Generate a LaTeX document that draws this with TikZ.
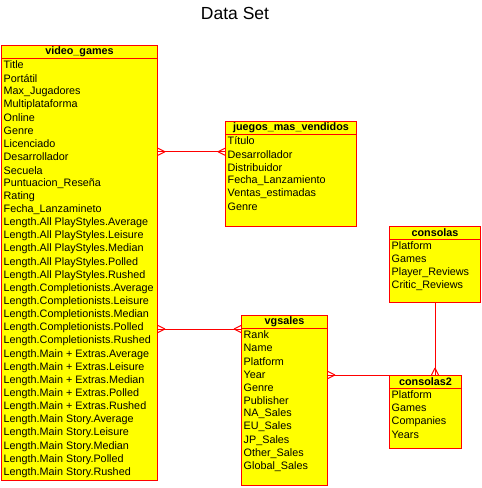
\documentclass[tikz,border=0pt]{standalone}
\usepackage{fontspec}
\setmainfont{Liberation Sans}
\usetikzlibrary{calc}
\definecolor{entyellow}{RGB}{255,255,0}
\tikzset{
  entbox/.style={draw=red, fill=entyellow, line width=1pt, inner sep=0pt, anchor=north west},
  attr/.style={anchor=west, inner sep=0pt, font=\fontsize{10.8}{12}\selectfont},
  hdr/.style={inner sep=0pt, font=\bfseries\fontsize{10.8}{12}\selectfont},
  conn/.style={draw=red, line width=1pt},
  ttl/.style={inner sep=0pt, font=\fontsize{17.5}{20}\selectfont}
}
\newcommand\entity[7]{% name, x, y, w, h, header, rows
  \node[entbox, minimum width=#4pt, minimum height=#5pt] (#1) at (#2,#3) {};
  \draw[conn] ([yshift=-13.5pt]#1.north west) -- ([yshift=-13.5pt]#1.north east);
  \node[hdr] at ([yshift=-7pt]#1.north) {#6};
  \foreach \t [count=\i from 0] in {#7}
    \node[attr] at ($(#1.north west)+(2.5,20+13.15*\i)$) {\t};
}
% crow's foot: box to the right of point
\newcommand\footR[1]{\draw[conn] ($(#1)+(-7,0)$) -- ($(#1)+(0,-3.5)$) ($(#1)+(-7,0)$) -- ($(#1)+(0,3.5)$);}
% box to the left of point
\newcommand\footL[1]{\draw[conn] ($(#1)+(7,0)$) -- ($(#1)+(0,-3.5)$) ($(#1)+(7,0)$) -- ($(#1)+(0,3.5)$);}
% box below point
\newcommand\footD[1]{\draw[conn] ($(#1)+(0,-7)$) -- ($(#1)+(-3.5,0)$) ($(#1)+(0,-7)$) -- ($(#1)+(3.5,0)$);}
\begin{document}
\begin{tikzpicture}[x=1pt,y=-1pt]
\useasboundingbox (0,0) rectangle (482,488);
\node[ttl] (title) at (235,13) {Data Set};

\entity{vg}{1}{45}{156}{435}{video\_games}{Title,Portátil,Max\_Jugadores,Multiplataforma,Online,Genre,Licenciado,Desarrollador,Secuela,Puntuacion\_Reseña,Rating,Fecha\_Lanzamineto,Length.All PlayStyles.Average,Length.All PlayStyles.Leisure,Length.All PlayStyles.Median,Length.All PlayStyles.Polled,Length.All PlayStyles.Rushed,Length.Completionists.Average,Length.Completionists.Leisure,Length.Completionists.Median,Length.Completionists.Polled,Length.Completionists.Rushed,Length.Main + Extras.Average,Length.Main + Extras.Leisure,Length.Main + Extras.Median,Length.Main + Extras.Polled,Length.Main + Extras.Rushed,Length.Main Story.Average,Length.Main Story.Leisure,Length.Main Story.Median,Length.Main Story.Polled,Length.Main Story.Rushed}

\entity{jm}{225}{121}{131}{105}{juegos\_mas\_vendidos}{Título,Desarrollador,Distribuidor,Fecha\_Lanzamiento,Ventas\_estimadas,Genre}

\entity{con}{389}{226}{91}{76}{consolas}{Platform,Games,Player\_Reviews,Critic\_Reviews}

\entity{vgs}{241}{315}{86}{170}{vgsales}{Rank,Name,Platform,Year,Genre,Publisher,NA\_Sales,EU\_Sales,JP\_Sales,Other\_Sales,Global\_Sales}

\entity{con2}{389}{375}{72}{73}{consolas2}{Platform,Games,Companies,Years}

% connectors
\path (vg.east |- 0,151.7) coordinate (a1);
\path (jm.west |- a1) coordinate (a2);
\draw[conn] (a1) -- (a2);
\footL{a1} \footR{a2}

\path (vg.east |- 0,329) coordinate (b1);
\path (vgs.west |- b1) coordinate (b2);
\draw[conn] (b1) -- (b2);
\footL{b1} \footR{b2}

\path (vgs.east |- con2.north west) coordinate (c1);
\draw[conn] (c1) -- (con2.north west);
\footL{c1}

\path (con.south |- con2.north) coordinate (d2);
\draw[conn] (con.south) -- (d2);
\footD{d2}
\end{tikzpicture}
\end{document}
